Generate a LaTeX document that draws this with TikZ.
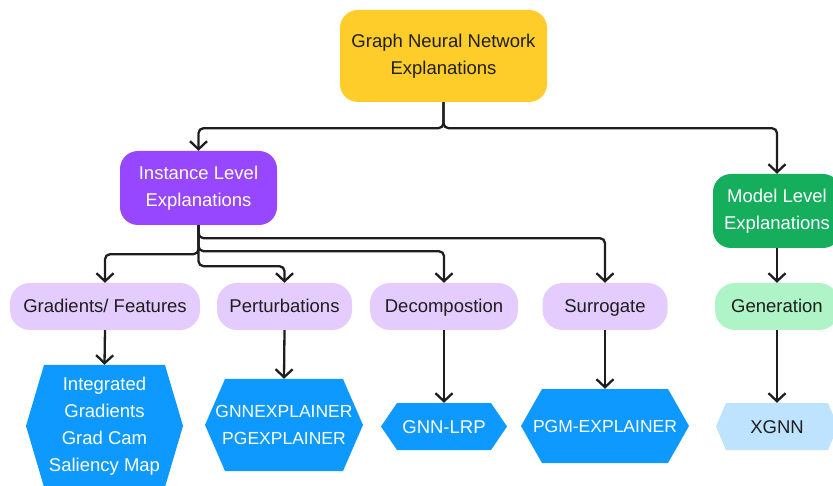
\documentclass[tikz,border=0pt]{standalone}
\usepackage{fontspec}
\setmainfont{Liberation Sans}
\usetikzlibrary{arrows.meta}
\definecolor{rootyellow}{HTML}{FFCD29}
\definecolor{instpurple}{HTML}{9747FF}
\definecolor{modelgreen}{HTML}{14AE5C}
\definecolor{catlilac}{HTML}{E4CCFF}
\definecolor{catmint}{HTML}{AFF4C6}
\definecolor{hexblue}{HTML}{0D99FF}
\definecolor{hexpale}{HTML}{BDE3FF}
\definecolor{txtdark}{HTML}{1E1E1E}
\tikzset{
	lbl/.style={inner sep=0pt, align=center, font=\fontsize{18.5}{27}\selectfont},
	caps/.style={font=\fontsize{17.5}{27}\selectfont},
	box/.style={lbl, rounded corners=18pt},
	oneline/.style={text height=13pt, text depth=0pt},
	pill/.style={lbl, oneline, rounded corners=20pt, minimum height=47pt, fill=catlilac, text=txtdark},
	hexshape/.style 2 args={path picture={
		\fill[#2] (path picture bounding box.west) -- ([xshift=#1]path picture bounding box.north west)
			-- ([xshift=-#1]path picture bounding box.north east) -- (path picture bounding box.east)
			-- ([xshift=-#1]path picture bounding box.south east) -- ([xshift=#1]path picture bounding box.south west) -- cycle;}},
	hexbox/.style={lbl, hexshape={#1}{hexblue}, text=white},
	hexlight/.style={lbl, hexshape={#1}{hexpale}, text=txtdark},
	link/.style={draw=txtdark, line width=2.3pt, rounded corners=5pt, -{Straight Barb[length=8pt,width=17pt]}}
}
\begin{document}
\begin{tikzpicture}[x=1pt,y=-1pt]
	\clip (0,0) rectangle (833,486);

	% racine et deux niveaux
	\node[box,fill=rootyellow,text=txtdark,minimum width=207pt,minimum height=92pt] (gnn) at (443.5,56) {Graph Neural Network\\Explanations};
	\node[box,fill=instpurple,text=white,minimum width=157pt,minimum height=74pt] (inst) at (198.5,188) {Instance Level\\Explanations};
	\node[box,fill=modelgreen,text=white,minimum width=128pt,minimum height=74pt] (model) at (777,211) {Model Level\\Explanations};

	% categories
	\node[pill,minimum width=190pt] (grad) at (105,306.5) {Gradients/ Features};
	\node[pill,minimum width=135pt] (pert) at (284.5,306.5) {Perturbations};
	\node[pill,minimum width=148pt] (decomp) at (444,306.5) {Decompostion};
	\node[pill,minimum width=125pt] (surr) at (605,306.5) {Surrogate};
	\node[pill,fill=catmint,minimum width=124pt] (gen) at (777,306.5) {Generation};

	% methodes
	\node[hexbox=18pt,minimum width=157pt,minimum height=122pt] (ghex) at (104.5,426) {Integrated\\Gradients\\Grad Cam\\Saliency Map};
	\node[hexbox=20pt,caps,minimum width=158pt,minimum height=92pt] (phex) at (284,425) {GNNEXPLAINER\\PGEXPLAINER};
	\node[hexbox=16pt,oneline,minimum width=126pt,minimum height=47pt] (lrp) at (444,426.5) {GNN-LRP};
	\node[hexbox=21pt,caps,oneline,minimum width=168pt,minimum height=74pt] (pgm) at (605,426) {PGM-EXPLAINER};
	\node[hexlight=10pt,oneline,minimum width=122pt,minimum height=47pt] (xgnn) at (777,426.5) {XGNN};

	\draw[link] (gnn.south) -- ++(0,26) -| (inst.north);
	\draw[link] (gnn.south) -- ++(0,26) -| (model.north);

	\draw[link] (inst.south) -- ++(0,13) -| (surr.north);
	\draw[link] (inst.south) -- ++(0,26) -| (decomp.north);
	\draw[link] (inst.south) -- ++(0,29) -| (grad.north);
	\draw[link] (inst.south) -- ++(0,41) -| (pert.north);
	\draw[link] (model.south) -- (gen.north);

	\foreach \a/\b in {grad/ghex,pert/phex,decomp/lrp,surr/pgm,gen/xgnn}
		\draw[link] (\a.south) -- (\b.north);
\end{tikzpicture}
\end{document}
